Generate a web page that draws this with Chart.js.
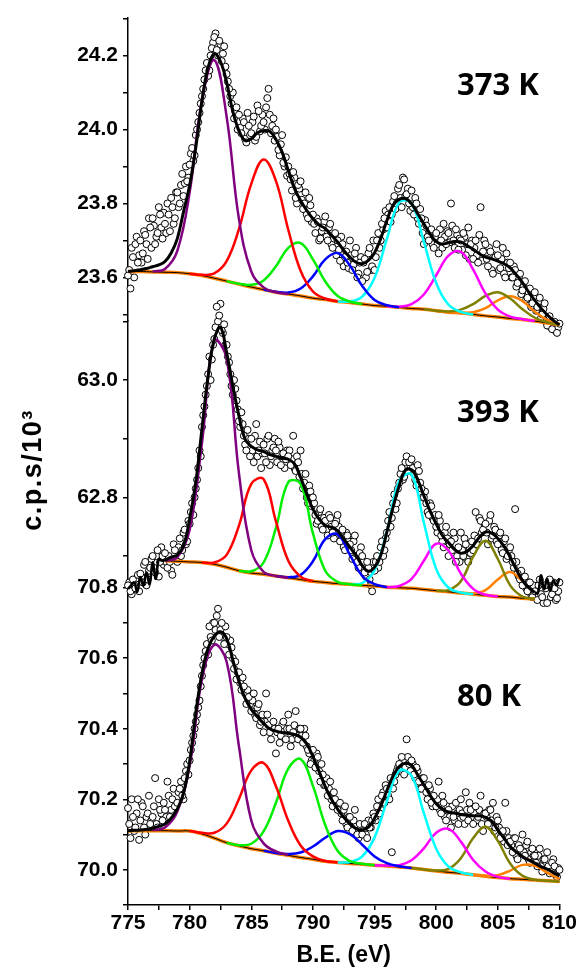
<!DOCTYPE html>
<html>
<head>
<meta charset="utf-8">
<script src="https://cdn.jsdelivr.net/npm/chart.js@4.4.1/dist/chart.umd.min.js"></script>
<style>
  html, body { margin: 0; padding: 0; background: #fff; }
  #wrap { width: 578px; height: 970px; }
</style>
</head>
<body>
<div id="wrap"><canvas id="xps" width="578" height="970"></canvas></div>
<script>
// measured scan: two interleaved sweeps, 775.0 / 775.1 .. 810 eV, 0.2 eV step each
const scanStartA = 775;
const scanStartB = 775.1;
const scanStep = 0.2;

const panelLabels = ['373 K', '393 K', '80 K'];
const yTitle = 'c.p.s/10\u00b3';
const xTitle = 'B.E. (eV)';

const beTicks = [775, 777.5, 780, 782.5, 785, 787.5, 790, 792.5, 795, 797.5, 800, 802.5, 805, 807.5, 810];
const beTickLabels = ['775', '', '780', '', '785', '', '790', '', '795', '', '800', '', '805', '', '810'];
const topTicks = [24.3, 24.2, 24.1, 24.0, 23.9, 23.8, 23.7, 23.6, 23.5];
const topTickLabels = ['', '24.2', '', '24.0', '', '23.8', '', '23.6', ''];
const midTicks = [63.1, 63.0, 62.9, 62.8, 62.7];
const midTickLabels = ['', '63.0', '', '62.8', ''];
const botTicks = [70.8, 70.7, 70.6, 70.5, 70.4, 70.3, 70.2, 70.1, 70.0, 69.9];
const botTickLabels = ['70.8', '', '70.6', '', '70.4', '', '70.2', '', '70.0', ''];

// ---- 373 K ----
const scatterTopA = [
  23.605, 23.570, 23.655, 23.690, 23.640, 23.700, 23.665, 23.715, 23.650, 23.735,
  23.760, 23.690, 23.720, 23.770, 23.705, 23.745, 23.800, 23.725, 23.790, 23.760,
  23.830, 23.800, 23.880, 23.855, 23.860, 23.905, 23.950, 23.930, 24.000, 24.045,
  24.090, 24.135, 24.180, 24.160, 24.220, 24.250, 24.215, 24.240, 24.185, 24.225,
  24.150, 24.110, 24.070, 24.030, 24.060, 24.040, 23.990, 24.020, 23.965, 24.010,
  23.990, 24.035, 23.980, 24.050, 24.010, 24.020, 24.060, 24.110, 23.990, 24.030,
  24.000, 23.945, 23.960, 23.910, 23.925, 23.900, 23.865, 23.885, 23.815, 23.850,
  23.860, 23.785, 23.830, 23.760, 23.795, 23.770, 23.720, 23.750, 23.705, 23.735,
  23.765, 23.700, 23.745, 23.680, 23.720, 23.700, 23.645, 23.690, 23.655, 23.640,
  23.700, 23.620, 23.665, 23.600, 23.640, 23.590, 23.650, 23.615, 23.680, 23.630,
  23.620, 23.700, 23.680, 23.745, 23.760, 23.735, 23.790, 23.770, 23.820, 23.800,
  23.850, 23.790, 23.865, 23.825, 23.800, 23.835, 23.770, 23.800, 23.745, 23.760,
  23.690, 23.740, 23.700, 23.730, 23.680, 23.720, 23.665, 23.700, 23.745, 23.690,
  23.720, 23.800, 23.700, 23.730, 23.675, 23.700, 23.720, 23.660, 23.735, 23.690,
  23.650, 23.700, 23.640, 23.790, 23.670, 23.690, 23.630, 23.670, 23.610, 23.655,
  23.660, 23.625, 23.680, 23.600, 23.640, 23.640, 23.600, 23.620, 23.585, 23.610,
  23.565, 23.590, 23.545, 23.570, 23.530, 23.560, 23.520, 23.545, 23.500, 23.530,
  23.470, 23.495, 23.460, 23.480, 23.450, 23.475
];
const scatterTopB = [
  23.620, 23.680, 23.600, 23.710, 23.660, 23.640, 23.725, 23.690, 23.760, 23.680,
  23.740, 23.710, 23.790, 23.735, 23.775, 23.720, 23.770, 23.815, 23.745, 23.830,
  23.790, 23.850, 23.820, 23.900, 23.870, 23.935, 23.915, 23.985, 24.020, 24.070,
  24.110, 24.160, 24.145, 24.200, 24.235, 24.260, 24.200, 24.230, 24.205, 24.170,
  24.130, 24.090, 24.100, 24.050, 24.000, 24.005, 24.030, 23.975, 24.045, 23.985,
  24.020, 23.970, 24.065, 23.995, 24.040, 24.000, 24.085, 24.040, 24.010, 23.970,
  23.980, 23.930, 23.985, 23.900, 23.875, 23.880, 23.835, 23.870, 23.800, 23.840,
  23.810, 23.800, 23.770, 23.815, 23.750, 23.745, 23.760, 23.700, 23.725, 23.750,
  23.710, 23.735, 23.690, 23.705, 23.660, 23.675, 23.710, 23.630, 23.670, 23.625,
  23.660, 23.635, 23.680, 23.610, 23.655, 23.640, 23.600, 23.665, 23.620, 23.700,
  23.655, 23.720, 23.700, 23.730, 23.780, 23.770, 23.750, 23.805, 23.785, 23.840,
  23.815, 23.870, 23.820, 23.840, 23.780, 23.790, 23.815, 23.760, 23.785, 23.720,
  23.755, 23.710, 23.725, 23.690, 23.710, 23.690, 23.730, 23.680, 23.710, 23.725,
  23.695, 23.740, 23.680, 23.715, 23.705, 23.675, 23.710, 23.690, 23.650, 23.700,
  23.680, 23.660, 23.715, 23.645, 23.700, 23.650, 23.680, 23.620, 23.660, 23.690,
  23.620, 23.650, 23.610, 23.665, 23.625, 23.600, 23.630, 23.575, 23.600, 23.555,
  23.575, 23.540, 23.560, 23.520, 23.545, 23.510, 23.535, 23.490, 23.515, 23.480,
  23.490, 23.465, 23.470, 23.455, 23.465
];
const fitTop = [ // 775..810, 0.5 eV
  23.616, 23.618, 23.621, 23.624, 23.629, 23.634, 23.643, 23.666, 23.705, 23.777,
  23.849, 23.952, 24.078, 24.168, 24.205, 24.184, 24.128, 24.049, 23.997, 23.970,
  23.975, 23.991, 23.997, 23.995, 23.973, 23.939, 23.889, 23.841, 23.808, 23.781,
  23.759, 23.742, 23.732, 23.714, 23.696, 23.673, 23.655, 23.641, 23.637, 23.646,
  23.667, 23.705, 23.754, 23.795, 23.811, 23.813, 23.799, 23.772, 23.745, 23.718,
  23.697, 23.690, 23.694, 23.697, 23.696, 23.686, 23.676, 23.664, 23.655, 23.650,
  23.644, 23.637, 23.626, 23.607, 23.586, 23.560, 23.538, 23.517, 23.499, 23.484,
  23.472
];
const bgTop = [ // 775..810, 1 eV
  23.616, 23.616, 23.615, 23.614, 23.613, 23.610, 23.605, 23.598, 23.590, 23.582,
  23.574, 23.567, 23.560, 23.555, 23.550, 23.544, 23.540, 23.535, 23.532, 23.528,
  23.524, 23.522, 23.519, 23.516, 23.514, 23.510, 23.506, 23.504, 23.500, 23.496,
  23.493, 23.489, 23.486, 23.482, 23.477, 23.472
];
const peakStartsTop = [777, 780, 783, 786, 792, 796, 799, 800];
const peaksTop = [
  [23.616, 23.623, 23.672, 23.830, 24.079, 24.188, 24.035, 23.758, 23.616, 23.573, 23.560, 23.555],
  [23.610, 23.607, 23.611, 23.644, 23.731, 23.853, 23.919, 23.861, 23.729, 23.618, 23.562, 23.543, 23.535],
  [23.590, 23.583, 23.580, 23.592, 23.630, 23.680, 23.693, 23.649, 23.589, 23.550, 23.535, 23.528],
  [23.567, 23.561, 23.559, 23.570, 23.603, 23.649, 23.666, 23.632, 23.577, 23.539, 23.525, 23.519],
  [23.535, 23.535, 23.548, 23.599, 23.704, 23.803, 23.800, 23.696, 23.585, 23.526, 23.507, 23.500],
  [23.522, 23.521, 23.528, 23.554, 23.606, 23.659, 23.669, 23.621, 23.556, 23.513, 23.494, 23.487, 23.482],
  [23.514, 23.510, 23.508, 23.513, 23.528, 23.550, 23.560, 23.543, 23.514, 23.491, 23.479, 23.472],
  [23.510, 23.506, 23.505, 23.506, 23.517, 23.538, 23.549, 23.536, 23.507, 23.485, 23.474]
];

// ---- 393 K ----
const scatterMidA = [
  62.650, 62.640, 62.660, 62.645, 62.668, 62.670, 62.655, 62.690, 62.660, 62.680,
  62.700, 62.672, 62.710, 62.690, 62.700, 62.705, 62.680, 62.690, 62.668, 62.710,
  62.690, 62.730, 62.710, 62.745, 62.725, 62.755, 62.790, 62.800, 62.830, 62.880,
  62.920, 62.955, 62.990, 63.040, 63.035, 63.070, 63.125, 63.110, 63.085, 63.095,
  63.060, 63.030, 62.990, 63.000, 62.965, 62.930, 62.945, 62.905, 62.880, 62.900,
  62.900, 62.860, 62.925, 62.880, 62.850, 62.890, 62.860, 62.905, 62.870, 62.885,
  62.880, 62.895, 62.855, 62.875, 62.865, 62.870, 62.855, 62.905, 62.845, 62.860,
  62.880, 62.815, 62.840, 62.790, 62.810, 62.800, 62.770, 62.760, 62.780, 62.745,
  62.760, 62.735, 62.765, 62.740, 62.755, 62.770, 62.725, 62.745, 62.710, 62.735,
  62.720, 62.695, 62.735, 62.690, 62.705, 62.700, 62.672, 62.690, 62.660, 62.640,
  62.675, 62.700, 62.690, 62.725, 62.710, 62.740, 62.775, 62.765, 62.805, 62.790,
  62.825, 62.850, 62.835, 62.870, 62.860, 62.865, 62.840, 62.820, 62.845, 62.815,
  62.800, 62.790, 62.770, 62.785, 62.760, 62.750, 62.770, 62.735, 62.715, 62.750,
  62.700, 62.725, 62.740, 62.690, 62.715, 62.740, 62.700, 62.720, 62.690, 62.705,
  62.710, 62.775, 62.730, 62.760, 62.745, 62.755, 62.720, 62.770, 62.735, 62.745,
  62.720, 62.740, 62.705, 62.730, 62.700, 62.715, 62.690, 62.780, 62.670, 62.660,
  62.650, 62.665, 62.640, 62.655, 62.630, 62.640, 62.625, 62.660, 62.630, 62.650,
  62.620, 62.660, 62.635, 62.645, 62.628, 62.655
];
const scatterMidB = [
  62.655, 62.635, 62.650, 62.662, 62.640, 62.665, 62.685, 62.650, 62.675, 62.695,
  62.680, 62.700, 62.665, 62.715, 62.685, 62.690, 62.700, 62.675, 62.720, 62.695,
  62.715, 62.700, 62.740, 62.720, 62.760, 62.775, 62.770, 62.815, 62.850, 62.870,
  62.940, 62.975, 63.010, 63.000, 63.060, 63.090, 63.100, 63.130, 63.080, 63.060,
  63.040, 63.010, 62.975, 62.985, 62.950, 62.920, 62.925, 62.890, 62.915, 62.870,
  62.880, 62.905, 62.870, 62.895, 62.875, 62.875, 62.900, 62.855, 62.880, 62.900,
  62.860, 62.885, 62.870, 62.850, 62.880, 62.880, 62.865, 62.850, 62.870, 62.835,
  62.840, 62.825, 62.800, 62.820, 62.785, 62.790, 62.755, 62.775, 62.750, 62.765,
  62.745, 62.770, 62.750, 62.730, 62.760, 62.750, 62.735, 62.715, 62.740, 62.725,
  62.710, 62.725, 62.700, 62.680, 62.715, 62.690, 62.665, 62.680, 62.650, 62.690,
  62.690, 62.680, 62.715, 62.700, 62.730, 62.760, 62.750, 62.790, 62.780, 62.815,
  62.840, 62.830, 62.860, 62.845, 62.855, 62.850, 62.830, 62.855, 62.825, 62.800,
  62.810, 62.775, 62.790, 62.765, 62.770, 62.740, 62.760, 62.725, 62.740, 62.730,
  62.720, 62.710, 62.730, 62.700, 62.690, 62.710, 62.730, 62.695, 62.715, 62.725,
  62.735, 62.720, 62.765, 62.740, 62.755, 62.740, 62.760, 62.730, 62.750, 62.725,
  62.735, 62.710, 62.725, 62.695, 62.710, 62.700, 62.680, 62.690, 62.665, 62.675,
  62.660, 62.645, 62.655, 62.635, 62.650, 62.630, 62.650, 62.635, 62.620, 62.645,
  62.650, 62.630, 62.655, 62.625, 62.640
];
const fitMid = [ // 778..808, 0.5 eV
  62.693, 62.698, 62.702, 62.717, 62.763, 62.826, 62.917, 63.007, 63.070, 63.090,
  63.047, 62.990, 62.939, 62.899, 62.887, 62.881, 62.878, 62.873, 62.870, 62.867,
  62.865, 62.857, 62.834, 62.806, 62.780, 62.763, 62.752, 62.749, 62.743, 62.729,
  62.715, 62.701, 62.684, 62.674, 62.681, 62.701, 62.741, 62.783, 62.820, 62.846,
  62.847, 62.830, 62.803, 62.777, 62.755, 62.735, 62.723, 62.711, 62.705, 62.708,
  62.718, 62.732, 62.741, 62.739, 62.730, 62.717, 62.698, 62.677, 62.658, 62.646,
  62.638
];
const edgeMidLeft = [62.644, 62.650, 62.655, 62.639, 62.664, 62.650, 62.672, 62.652, 62.689, 62.661, 62.695, 62.692, 62.693]; // 775..778, 0.25 eV
const edgeMidRight = [62.638, 62.637, 62.667, 62.644, 62.661, 62.641, 62.658, 62.650, 62.662]; // 808..810, 0.25 eV
const bgMid = [ // 778..808, 1 eV
  62.692, 62.691, 62.690, 62.689, 62.686, 62.681, 62.675, 62.671, 62.669, 62.666,
  62.663, 62.660, 62.657, 62.655, 62.653, 62.652, 62.650, 62.649, 62.647, 62.646,
  62.645, 62.643, 62.641, 62.639, 62.637, 62.635, 62.633, 62.631, 62.630, 62.628,
  62.627
];
const peakStartsMid = [778, 781, 784, 787, 793, 796, 800, 802];
const peaksMid = [
  [62.692, 62.698, 62.745, 62.893, 63.067, 63.037, 62.841, 62.710, 62.673, 62.666, 62.663],
  [62.689, 62.689, 62.702, 62.752, 62.823, 62.831, 62.759, 62.692, 62.665, 62.657],
  [62.675, 62.674, 62.689, 62.748, 62.826, 62.823, 62.739, 62.675, 62.656, 62.652, 62.650],
  [62.666, 62.664, 62.668, 62.691, 62.729, 62.737, 62.702, 62.666, 62.652, 62.647],
  [62.652, 62.654, 62.676, 62.742, 62.828, 62.839, 62.757, 62.678, 62.646, 62.638, 62.635],
  [62.647, 62.649, 62.661, 62.692, 62.721, 62.709, 62.670, 62.644, 62.634, 62.631],
  [62.641, 62.642, 62.657, 62.699, 62.726, 62.695, 62.650, 62.631, 62.627],
  [62.637, 62.636, 62.642, 62.660, 62.673, 62.657]
];

// ---- 80 K ----
const scatterBotA = [
  70.175, 70.090, 70.150, 70.120, 70.200, 70.140, 70.180, 70.100, 70.160, 70.130,
  70.150, 70.260, 70.120, 70.170, 70.140, 70.170, 70.250, 70.150, 70.200, 70.180,
  70.190, 70.230, 70.210, 70.260, 70.300, 70.310, 70.360, 70.400, 70.440, 70.480,
  70.550, 70.600, 70.640, 70.690, 70.650, 70.700, 70.720, 70.660, 70.700, 70.640,
  70.660, 70.610, 70.630, 70.570, 70.540, 70.560, 70.510, 70.520, 70.470, 70.490,
  70.450, 70.500, 70.430, 70.470, 70.420, 70.390, 70.500, 70.410, 70.370, 70.420,
  70.330, 70.400, 70.380, 70.420, 70.370, 70.440, 70.350, 70.390, 70.450, 70.370,
  70.400, 70.360, 70.380, 70.340, 70.300, 70.340, 70.290, 70.320, 70.250, 70.270,
  70.240, 70.210, 70.250, 70.180, 70.200, 70.170, 70.190, 70.140, 70.180, 70.120,
  70.150, 70.110, 70.170, 70.100, 70.130, 70.100, 70.130, 70.090, 70.120, 70.140,
  70.150, 70.180, 70.160, 70.210, 70.190, 70.230, 70.200, 70.050, 70.250, 70.280,
  70.300, 70.320, 70.270, 70.370, 70.300, 70.310, 70.270, 70.290, 70.250, 70.230,
  70.260, 70.220, 70.240, 70.190, 70.210, 70.180, 70.250, 70.160, 70.190, 70.140,
  70.170, 70.120, 70.150, 70.190, 70.130, 70.200, 70.150, 70.220, 70.140, 70.170,
  70.130, 70.180, 70.150, 70.210, 70.110, 70.160, 70.130, 70.170, 70.190, 70.120,
  70.140, 70.090, 70.110, 70.190, 70.070, 70.080, 70.050, 70.090, 70.030, 70.060,
  70.100, 70.040, 70.080, 70.020, 70.060, 70.040, 70.010, 70.060, 69.995, 70.030,
  70.050, 69.990, 70.020, 70.010, 69.980, 70.000
];
const scatterBotB = [
  70.130, 70.200, 70.110, 70.160, 70.085, 70.190, 70.120, 70.150, 70.210, 70.140,
  70.180, 70.130, 70.200, 70.160, 70.190, 70.150, 70.210, 70.170, 70.230, 70.190,
  70.220, 70.250, 70.200, 70.280, 70.270, 70.340, 70.380, 70.420, 70.460, 70.520,
  70.580, 70.620, 70.610, 70.660, 70.700, 70.680, 70.740, 70.680, 70.660, 70.690,
  70.640, 70.650, 70.600, 70.590, 70.560, 70.530, 70.545, 70.500, 70.510, 70.470,
  70.480, 70.440, 70.460, 70.410, 70.440, 70.420, 70.440, 70.390, 70.410, 70.400,
  70.390, 70.360, 70.410, 70.380, 70.400, 70.400, 70.370, 70.410, 70.380, 70.400,
  70.380, 70.400, 70.350, 70.330, 70.310, 70.310, 70.330, 70.280, 70.300, 70.240,
  70.260, 70.230, 70.200, 70.220, 70.190, 70.190, 70.160, 70.170, 70.130, 70.150,
  70.120, 70.140, 70.110, 70.090, 70.120, 70.110, 70.100, 70.140, 70.120, 70.160,
  70.140, 70.200, 70.170, 70.220, 70.240, 70.210, 70.260, 70.230, 70.270, 70.290,
  70.280, 70.310, 70.290, 70.320, 70.280, 70.300, 70.260, 70.280, 70.230, 70.260,
  70.240, 70.200, 70.230, 70.180, 70.200, 70.200, 70.170, 70.210, 70.150, 70.180,
  70.150, 70.180, 70.140, 70.160, 70.170, 70.160, 70.130, 70.170, 70.190, 70.150,
  70.160, 70.140, 70.170, 70.130, 70.160, 70.150, 70.170, 70.140, 70.110, 70.150,
  70.120, 70.100, 70.080, 70.110, 70.090, 70.070, 70.090, 70.040, 70.070, 70.050,
  70.050, 70.070, 70.030, 70.050, 70.040, 70.020, 70.040, 70.010, 70.030, 70.000,
  70.010, 69.995, 70.030, 69.985, 70.005
];
const fitBot = [ // 775..810, 0.5 eV
  70.111, 70.112, 70.113, 70.115, 70.118, 70.123, 70.130, 70.146, 70.172, 70.217,
  70.307, 70.444, 70.557, 70.628, 70.663, 70.675, 70.656, 70.595, 70.534, 70.486,
  70.455, 70.434, 70.415, 70.400, 70.393, 70.389, 70.387, 70.384, 70.376, 70.357,
  70.321, 70.279, 70.236, 70.200, 70.172, 70.149, 70.130, 70.117, 70.113, 70.121,
  70.146, 70.181, 70.225, 70.266, 70.293, 70.302, 70.296, 70.269, 70.241, 70.212,
  70.187, 70.172, 70.164, 70.161, 70.157, 70.155, 70.153, 70.153, 70.149, 70.138,
  70.113, 70.090, 70.066, 70.050, 70.038, 70.028, 70.019, 70.009, 70.002, 69.992,
  69.983
];
const bgBot = [ // 775..810, 1 eV
  70.111, 70.111, 70.111, 70.111, 70.110, 70.110, 70.102, 70.090, 70.077, 70.068,
  70.060, 70.054, 70.047, 70.041, 70.035, 70.030, 70.024, 70.021, 70.018, 70.016,
  70.013, 70.011, 70.008, 70.005, 70.001, 69.997, 69.993, 69.990, 69.986, 69.982,
  69.978, 69.975, 69.973, 69.971, 69.969, 69.967
];
const peakStartsBot = [777, 780, 783, 786, 792, 795, 798, 802];
const peaksBot = [
  [70.113, 70.120, 70.165, 70.295, 70.540, 70.638, 70.590, 70.350, 70.140, 70.075, 70.052, 70.042],
  [70.110, 70.105, 70.105, 70.131, 70.201, 70.282, 70.303, 70.237, 70.139, 70.069, 70.038, 70.025, 70.021],
  [70.077, 70.070, 70.074, 70.109, 70.190, 70.287, 70.314, 70.238, 70.127, 70.054, 70.025, 70.017, 70.013],
  [70.054, 70.048, 70.045, 70.049, 70.066, 70.091, 70.110, 70.101, 70.071, 70.038, 70.019, 70.010, 70.005],
  [70.021, 70.022, 70.038, 70.092, 70.194, 70.281, 70.266, 70.161, 70.060, 70.009, 69.993, 69.986],
  [70.013, 70.012, 70.013, 70.027, 70.061, 70.105, 70.116, 70.080, 70.028, 69.995, 69.980, 69.975],
  [70.005, 70.001, 69.998, 70.003, 70.033, 70.090, 70.122, 70.082, 70.018, 69.983, 69.972, 69.969, 69.967],
  [69.990, 69.986, 69.983, 69.985, 69.998, 70.014, 70.012, 69.992, 69.974]
];

const peakColors = ['#800080', '#ff0000', '#00ee00', '#0000ff', '#00ffff', '#ff00ff', '#808000', '#ff8000'];
const axisFont = "'Liberation Sans', Arial, sans-serif";

function series(start, step, vals) {
  return vals.map((v, i) => ({ x: start + i * step, y: v }));
}

function line(data, axis, color, width, order) {
  return { data, yAxisID: axis, showLine: true, borderColor: color, borderWidth: width,
           pointRadius: 0, tension: 0.4, clip: false, order };
}

function dots(data, axis, order) {
  return { data, yAxisID: axis, showLine: false, pointRadius: 3.5, pointBorderWidth: 1,
           pointBorderColor: '#000', pointBackgroundColor: '#fff', clip: false, order };
}

const datasets = [];
function addPanel(axis, scatA, scatB, bgStart, bg, starts, peaks, fitStart, fit) {
  datasets.push(dots(series(scanStartA, scanStep, scatA), axis, 10));
  datasets.push(dots(series(scanStartB, scanStep, scatB), axis, 10));
  datasets.push(line(series(bgStart, 1, bg), axis, '#ff8000', 3.5, 7));
  datasets.push(line(series(bgStart, 1, bg), axis, '#000', 1, 6));
  peaks.forEach((p, k) => datasets.push(line(series(starts[k], 1, p), axis, peakColors[k], 2.5, 5)));
  datasets.push(line(series(fitStart, 0.5, fit), axis, '#000', 3, 4));
}
addPanel('yTop', scatterTopA, scatterTopB, 775, bgTop, peakStartsTop, peaksTop, 775, fitTop);
addPanel('yMid', scatterMidA, scatterMidB, 778, bgMid, peakStartsMid, peaksMid, 778, fitMid);
addPanel('yBot', scatterBotA, scatterBotB, 775, bgBot, peakStartsBot, peaksBot, 775, fitBot);
datasets.push(line(series(775, 0.25, edgeMidLeft), 'yMid', '#000', 2.5, 4));
datasets.push(line(series(808, 0.25, edgeMidRight), 'yMid', '#000', 2.5, 4));

function yScale(ticks, labels, min, max, weight) {
  return {
    type: 'linear', position: 'left', stack: 'panels', stackWeight: weight,
    min, max,
    afterBuildTicks: s => { s.ticks = ticks.map(v => ({ value: v })); },
    afterFit: s => { s.width = 128; },
    border: { display: true, color: '#000', width: 1.5 },
    grid: { drawOnChartArea: false, color: '#000', lineWidth: 1.5, tickLength: 5 },
    ticks: { autoSkip: false, padding: 5, color: '#000',
             font: { family: axisFont, size: 21, weight: 'bold' },
             callback: (v, i) => labels[i] }
  };
}

const annotate = {
  id: 'annotate',
  afterDraw(chart) {
    const ctx = chart.ctx;
    ctx.save();
    ctx.fillStyle = '#000';
    ctx.font = "bold 31px 'Open Sans', sans-serif";
    ctx.textAlign = 'left';
    ctx.textBaseline = 'alphabetic';
    ctx.fillText(panelLabels[0], 457, 95);
    ctx.fillText(panelLabels[1], 457, 422);
    ctx.fillText(panelLabels[2], 457, 706);
    ctx.translate(34, 470);
    ctx.rotate(-Math.PI / 2);
    ctx.font = 'bold 27px ' + axisFont;
    ctx.letterSpacing = '1.5px';
    ctx.textAlign = 'center';
    ctx.textBaseline = 'middle';
    ctx.fillText(yTitle, 0, 0);
    ctx.restore();
  }
};

new Chart(document.getElementById('xps'), {
  type: 'scatter',
  data: { datasets },
  options: {
    responsive: false,
    animation: false,
    events: [],
    layout: { padding: { top: 17, right: 18.5, bottom: 0, left: 0 } },
    plugins: { legend: { display: false }, tooltip: { enabled: false } },
    scales: {
      x: {
        type: 'linear', min: 775, max: 810,
        afterBuildTicks: s => { s.ticks = beTicks.map(v => ({ value: v })); },
        afterFit: s => { s.height = 65; },
        border: { display: true, color: '#000', width: 1.5 },
        grid: { drawOnChartArea: false, color: '#000', lineWidth: 1.5, tickLength: 5 },
        ticks: { autoSkip: false, maxRotation: 0, padding: 1, color: '#000',
                 font: { family: axisFont, size: 21, weight: 'bold' },
                 callback: (v, i) => beTickLabels[i] },
        title: { display: true, text: xTitle, color: '#000', padding: { top: 0, bottom: 1 },
                 font: { family: axisFont, size: 23, weight: 'bold' } }
      },
      // stacked left axes are laid out bottom-up, so the lowest panel comes first
      yBot: yScale(botTicks, botTickLabels, 69.9003, 70.8, 317.6),
      yMid: yScale(midTicks, midTickLabels, 62.6462, 63.1017, 267.4),
      yTop: yScale(topTicks, topTickLabels, 23.4838, 24.3027, 303)
    }
  },
  plugins: [annotate]
});
</script>
</body>
</html>
